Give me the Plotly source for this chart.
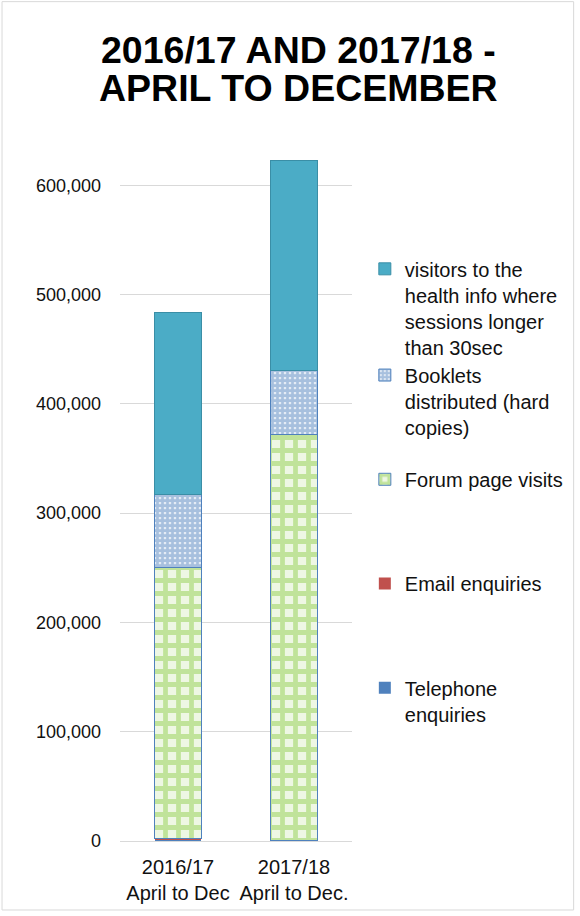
import plotly.graph_objects as go

categories = ["2016/17<br>April to Dec", "2017/18<br>April to Dec."]
telephone = [1200, 500]
email = [1000, 400]
forum = [248500, 371500]
booklets = [66000, 58000]
visitors = [167000, 192000]

names = [
    "Telephone<br>enquiries",
    "Email enquiries",
    "Forum page visits",
    "Booklets<br>distributed (hard<br>copies)",
    "visitors to the<br>health info where<br>sessions longer<br>than 30sec",
]
title_lines = ["2016/17 AND 2017/18 -", "APRIL TO DECEMBER"]

L, R, T, B = 120, 225, 158, 70
W, H = 580, 916
pw, ph = W - L - R, H - T - B

def ly(px):
    return (H - B - px) / ph

def lxp(px):
    return (px - L) / pw

FONT = "Liberation Sans, Arial"

fig = go.Figure()
fig.add_bar(x=categories, y=telephone, name=names[0], marker=dict(color="#4f81bd", line=dict(width=0)),
            legend="legend5")
fig.add_bar(x=categories, y=email, name=names[1], marker=dict(color="#c0504d", line=dict(width=0)),
            legend="legend4")
fig.add_bar(x=categories, y=forum, name=names[2],
            marker=dict(color="white", line=dict(color="#4f81bd", width=1),
                        pattern=dict(shape="+", fgcolor="#92d050", bgcolor="#eef7e4",
                                     size=13, solidity=0.6, fillmode="overlay")),
            legend="legend3")
fig.add_bar(x=categories, y=booklets, name=names[3],
            marker=dict(color="white", line=dict(color="#4f81bd", width=1),
                        pattern=dict(shape=".", fgcolor="#4f81bd", bgcolor="white",
                                     size=5, solidity=0.8, fillmode="overlay")),
            legend="legend2")
fig.add_bar(x=categories, y=visitors, name=names[4],
            marker=dict(color="#4bacc6", line=dict(color="#3a8ea6", width=1)),
            legend="legend")

legend_tops = {"legend": 250, "legend2": 357, "legend3": 462, "legend4": 567, "legend5": 672}
legend_font = dict(family=FONT, size=20, color="#111")
layout_legends = {}
for k, top in legend_tops.items():
    layout_legends[k] = dict(x=lxp(368), y=ly(top), xanchor="left", yanchor="top",
                             font=legend_font, valign="top", bgcolor="rgba(0,0,0,0)",
                             itemwidth=30, tracegroupgap=0)

fig.update_layout(
    width=W, height=H,
    margin=dict(l=L, r=R, t=T, b=B),
    barmode="stack",
    bargap=0.6,
    plot_bgcolor="white",
    paper_bgcolor="white",
    yaxis=dict(range=[0, 625000], tickvals=[0, 100000, 200000, 300000, 400000, 500000, 600000],
               tickformat=",", showgrid=True, gridcolor="#d9d9d9", gridwidth=1,
               zeroline=False, ticks="", ticklabelstandoff=18,
               tickfont=dict(family=FONT, size=18, color="#111")),
    xaxis=dict(showline=True, linecolor="#d9d9d9", linewidth=1, ticks="", ticklabelstandoff=8,
               tickfont=dict(family=FONT, size=20, color="#111")),
    showlegend=True,
    **layout_legends,
)

for txt, base in zip(title_lines, [62, 100]):
    fig.add_annotation(text="<b>%s</b>" % txt, xref="paper", yref="paper",
                       x=lxp(301), y=ly(base - 13), xanchor="center", yanchor="middle",
                       showarrow=False,
                       font=dict(family=FONT, size=37.5, color="black"))

fig.add_shape(type="rect", xref="paper", yref="paper",
              x0=(-L + 0.5) / pw, x1=1 + (R - 0.5) / pw,
              y0=(-B + 0.5) / ph, y1=1 + (T - 0.5) / ph,
              line=dict(color="#d9d9d9", width=1), fillcolor="rgba(0,0,0,0)", layer="below")

fig.write_html("out.html")
